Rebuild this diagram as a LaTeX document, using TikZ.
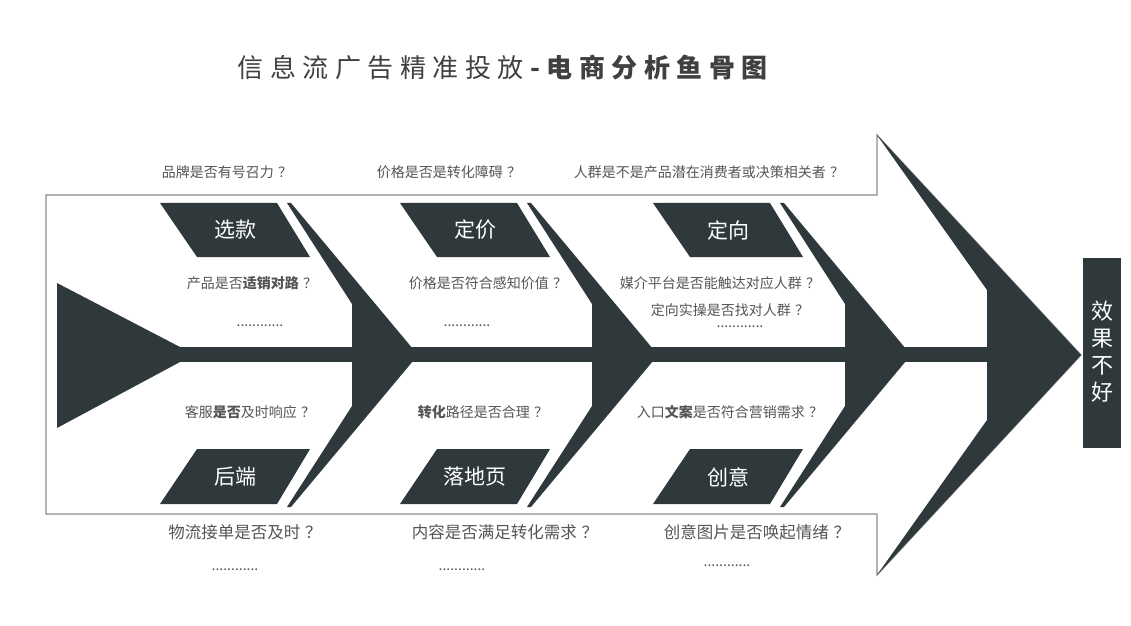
\documentclass[tikz,border=0pt]{standalone}
\usepackage{fontspec}
\setmainfont{Noto Sans CJK SC}
\newfontfamily\headfont{Noto Sans CJK SC}[LetterSpace=25]
\usepackage{tikz}
\definecolor{bone}{RGB}{47,57,60}
\definecolor{note}{RGB}{85,85,85}
\definecolor{rim}{RGB}{140,140,140}
\newcommand\qm{\hspace{0.3em}？}
\tikzset{
  q/.style={text=note,font=\fontsize{7}{8}\selectfont,inner sep=0pt},
  qlow/.style={text=note,font=\fontsize{8.25}{9}\selectfont,inner sep=0pt},
  dots/.style={text=note,font=\fontsize{7}{8}\selectfont,inner sep=0pt},
  tag/.style={text=white,font=\fontsize{10.5}{12}\selectfont,inner sep=0pt},
}

\begin{document}
\begin{tikzpicture}
[x=0.5pt, y=-0.5pt]
\useasboundingbox (0,0) rectangle (1131,626);
\fill[white] (0,0) rectangle (1131,626);
\node[text=black!75,font=\headfont\fontsize{13}{15}\selectfont] (title) at (506,68) {信息流广告精准投放\textbf{-电商分析鱼骨图}};
% outline of the fish
\draw[rim,line width=0.6pt] (46,195) -- (877,195) -- (877,135) -- (1081,355) -- (877,575) -- (877,514) -- (46,514) -- cycle;
% tail, spine, head
\fill[bone] (57,283) -- (180,347) -- (180,362) -- (57,428) -- cycle;
\fill[bone] (175,347) rectangle (995,362);
\fill[bone] (877,135) -- (1081,355) -- (877,575) -- (987,420) -- (987,290) -- cycle;
% bones with their boxes
\foreach \x/\upname/\lowname [count=\i] in {287/选款/后端, 527/定价/落地页, 780/定向/创意}{
  \fill[bone] (\x,203) -- (\x+4,203) -- (\x+131,355) -- (\x+4,507) -- (\x,507) -- (\x+65,406) -- (\x+65,304) -- cycle;
  \fill[bone] (\x-127,203) -- (\x-10,203) -- (\x+23,257) -- (\x-90,257) -- cycle;
  \fill[bone] (\x-90,449) -- (\x+23,449) -- (\x-10,504) -- (\x-127,504) -- cycle;
  \node[tag] (up\i) at (\x-52,230) {\upname};
  \node[tag] (low\i) at (\x-52,477) {\lowname};
}
% result
\fill[bone] (1083,258) rectangle (1121,448);
\node[tag,align=center,font=\fontsize{11}{13.5}\selectfont] (result) at (1102,352) {效\\果\\不\\好};
% questions
\node[q] (q11) at (227,172) {品牌是否有号召力\qm};
\node[q] (q21) at (449,172) {价格是否是转化障碍\qm};
\node[q] (q31) at (709,172) {人群是不是产品潜在消费者或决策相关者\qm};
\node[q] (q12) at (252,283) {产品是否\textbf{适销对路}\qm};
\node[q] (q22) at (488,283) {价格是否符合感知价值\qm};
\node[q] (q32) at (720,283) {媒介平台是否能触达对应人群\qm};
\node[q] (q33) at (730,310) {定向实操是否找对人群\qm};
\node[dots] (d12) at (260,326) {............};
\node[dots] (d22) at (467,326) {............};
\node[dots] (d33) at (740,327) {............};
\node[q] (q14) at (250,412) {客服\textbf{是否}及时响应\qm};
\node[q] (q24) at (483,412) {\textbf{转化}路径是否合理\qm};
\node[q] (q34) at (730,412) {入口\textbf{文案}是否符合营销需求\qm};
\node[qlow] (q15) at (245,532) {物流接单是否及时\qm};
\node[qlow] (q25) at (505,532) {内容是否满足转化需求\qm};
\node[qlow] (q35) at (757,532) {创意图片是否唤起情绪\qm};
\node[dots] (d15) at (235,570) {............};
\node[dots] (d25) at (462,570) {............};
\node[dots] (d35) at (727,566) {............};
\end{tikzpicture}
\end{document}
